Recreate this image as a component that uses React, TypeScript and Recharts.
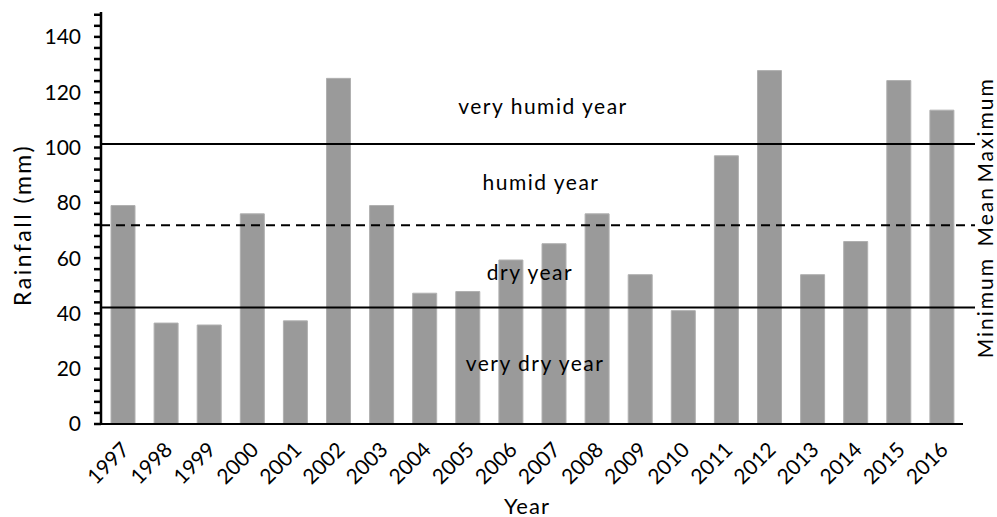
import React from "react";
import {
  BarChart,
  Bar,
  XAxis,
  YAxis,
  ReferenceLine,
} from "recharts";

const years = [
  "1997", "1998", "1999", "2000", "2001", "2002", "2003", "2004", "2005", "2006",
  "2007", "2008", "2009", "2010", "2011", "2012", "2013", "2014", "2015", "2016",
];
const rainfall = [
  79, 36.5, 35.8, 76, 37.3, 125, 79, 47.3, 47.9, 59.3,
  65.2, 76, 54, 41, 97, 127.8, 54, 66, 124.2, 113.5,
];

const thresholdNames = ["Maximum", "Mean", "Minimum"];
const thresholdValues = [101.3, 71.9, 42.1];

const zoneNames = ["very humid year", "humid year", "dry year", "very dry year"];
const zoneValues = [115.2, 87.6, 55.3, 22.2];

const yTicks = [
  0, 4, 8, 12, 16, 20, 24, 28, 32, 36, 40, 44, 48, 52, 56, 60, 64, 68, 72,
  76, 80, 84, 88, 92, 96, 100, 104, 108, 112, 116, 120, 124, 128, 132, 136,
  140, 144, 148,
];

const data = years.map((year, i) => ({ year, rain: rainfall[i] }));

const FONT = "Lato, 'Open Sans', sans-serif";

// small nudges so the labels sit where they do in the figure
const zoneDx = [11, 9, -2, 3];
const thresholdDy = [-14, -9, 0];

const XTick = (props: any) => {
  const { x, y, payload } = props;
  return (
    <g transform={`translate(${x + 2},${y + 21})`}>
      <text
        textAnchor="end"
        dominantBaseline="central"
        transform="rotate(-45)"
        fontSize={21}
        fontFamily={FONT}
        fill="#000"
      >
        {payload.value}
      </text>
    </g>
  );
};

const dashFor = (i: number) => (i === 1 ? "9 6" : undefined);

export default function App() {
  return (
    <div style={{ position: "absolute", left: 0, top: 0, background: "#fff" }}>
      <BarChart
        width={997}
        height={517}
        data={data}
        margin={{ top: 12, right: 34, bottom: 0, left: 0 }}
      >
        <XAxis
          dataKey="year"
          height={93}
          tickSize={0}
          tickMargin={0}
          tick={<XTick />}
          axisLine={{ stroke: "#000", strokeWidth: 2 }}
          interval={0}
          label={{
            content: (p: any) => {
              const vb = p.viewBox;
              return (
                <text
                  x={vb.x + vb.width / 2 - 5}
                  y={505}
                  textAnchor="middle"
                  dominantBaseline="central"
                  fontSize={22}
                  fontFamily={FONT}
                  letterSpacing={1}
                  fill="#000"
                >
                  Year
                </text>
              );
            },
          }}
        />
        <YAxis
          width={101}
          domain={[0, 149]}
          ticks={yTicks}
          interval={0}
          tickSize={7}
          tickMargin={13}
          tickFormatter={(v: number) => (v % 20 === 0 ? String(v) : "")}
          tick={{ fontSize: 21, fontFamily: FONT, fill: "#000" }}
          tickLine={{ stroke: "#000", strokeWidth: 2.5 }}
          axisLine={{ stroke: "#000", strokeWidth: 2.5 }}
          label={{
            content: (p: any) => {
              const vb = p.viewBox;
              const cx = 22;
              const cy = vb.y + vb.height / 2 + 7;
              return (
                <text
                  x={cx}
                  y={cy}
                  transform={`rotate(-90, ${cx}, ${cy})`}
                  textAnchor="middle"
                  dominantBaseline="central"
                  fontSize={23}
                  fontFamily={FONT}
                  letterSpacing={2.5}
                  fill="#000"
                >
                  Rainfall (mm)
                </text>
              );
            },
          }}
        />
        <Bar
          dataKey="rain"
          fill="#9a9a9a"
          stroke="#b0b0b0"
          strokeWidth={1}
          barSize={24}
          isAnimationActive={false}
        />
        {zoneNames.map((name, i) => (
          <ReferenceLine
            key={name}
            y={zoneValues[i]}
            stroke="none"
            label={{
              content: (p: any) => {
                const vb = p.viewBox;
                return (
                  <text
                    x={vb.x + vb.width / 2 + zoneDx[i]}
                    y={vb.y}
                    textAnchor="middle"
                    dominantBaseline="central"
                    fontSize={21}
                    fontFamily={FONT}
                    letterSpacing={1.5}
                    fill="#000"
                  >
                    {name}
                  </text>
                );
              },
            }}
          />
        ))}
        {thresholdNames.map((name, i) => (
          <ReferenceLine
            key={name}
            y={thresholdValues[i]}
            shape={(p: any) => (
              <line
                x1={p.x1}
                y1={p.y1}
                x2={p.x2 + 12}
                y2={p.y2}
                stroke="#000"
                strokeWidth={2}
                strokeDasharray={dashFor(i)}
              />
            )}
            label={{
              content: (p: any) => {
                const vb = p.viewBox;
                const cx = vb.x + vb.width + 22;
                const cy = vb.y + thresholdDy[i];
                return (
                  <text
                    x={cx}
                    y={cy}
                    transform={`rotate(-90, ${cx}, ${cy})`}
                    textAnchor="middle"
                    dominantBaseline="central"
                    fontSize={21}
                    fontFamily={FONT}
                    letterSpacing={2}
                    fill="#000"
                  >
                    {name}
                  </text>
                );
              },
            }}
          />
        ))}
      </BarChart>
    </div>
  );
}
